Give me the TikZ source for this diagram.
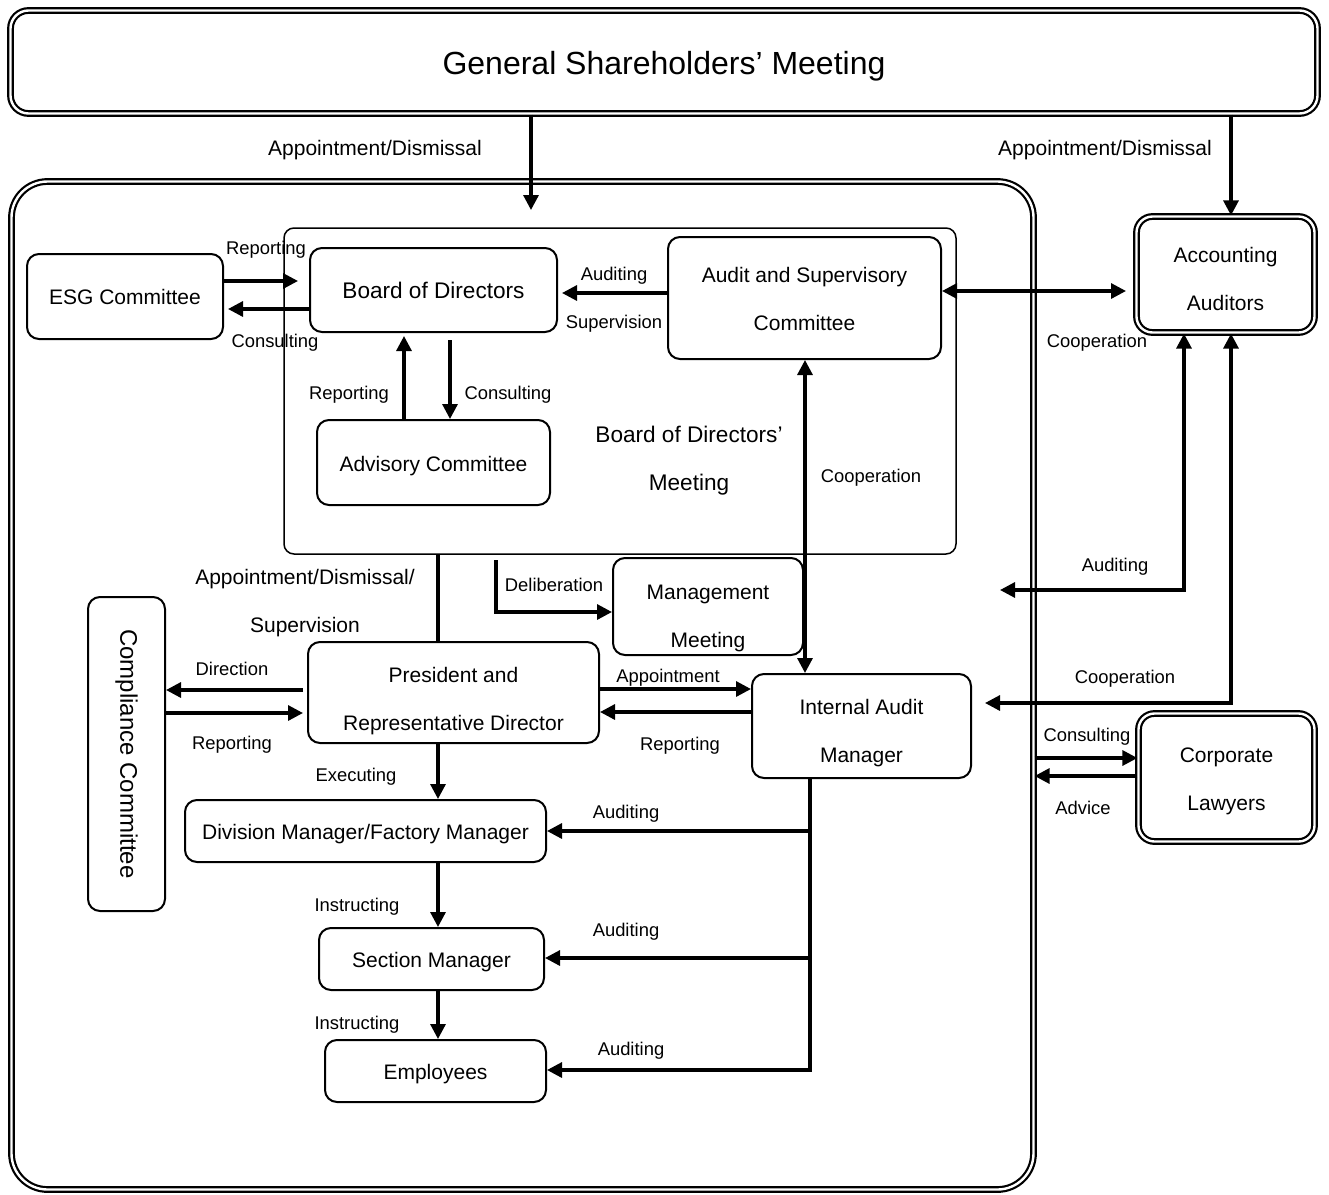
\documentclass[tikz,border=0pt]{standalone}
\usepackage{fontspec}
\setmainfont{Liberation Sans}
\usepackage{graphicx}
\usetikzlibrary{arrows.meta,calc}
% #1 style, #2 name, #3-#6 corners (px), #7 text, #8 text shift (px, down)
\newcommand\mybox[8]{%
  \pgfmathsetmacro\bcx{(#3+#5)/2}\pgfmathsetmacro\bcy{(#4+#6)/2}%
  \pgfmathsetmacro\bty{(#4+#6)/2+#8}%
  \pgfmathsetmacro\bww{(#5-#3)/2}\pgfmathsetmacro\bhh{(#6-#4)/2}%
  \node[#1, minimum width=\bww pt, minimum height=\bhh pt] (#2) at (\bcx,\bcy) {};
  \node[#1, draw=none] (#2t) at (\bcx,\bty) {#7};}
\begin{document}
\begin{tikzpicture}[x=0.5pt,y=-0.5pt,
  box/.style={draw, line width=1pt, rounded corners=6pt, align=center, inner sep=0pt, font=\fontsize{10.5}{24}\selectfont},
  dbl/.style={box, line width=1.1pt, double, double distance=1.2pt, rounded corners=8pt},
  lab/.style={font=\fontsize{9.2}{11}\selectfont, inner sep=0pt, yshift=-1pt},
  labb/.style={font=\fontsize{10.5}{24}\selectfont, inner sep=0pt, align=center, yshift=-1pt},
  arr/.style={line width=1.6pt, -{Triangle[length=7.5pt,width=7.5pt]}},
  darr/.style={line width=1.6pt, {Triangle[length=7.5pt,width=7.5pt]}-{Triangle[length=7.5pt,width=7.5pt]}},
  ln/.style={line width=1.6pt}]
\useasboundingbox (0,0) rectangle (1329,1195);

% boxes
\mybox{dbl, rounded corners=9pt, font=\fontsize{16}{20}\selectfont}{gsm}{10.5}{10.5}{1317.5}{113.5}{General Shareholders’ Meeting}{4}
\mybox{dbl, rounded corners=18pt}{cont}{11.5}{181.5}{1033.5}{1189.5}{}{0}
\mybox{box, line width=0.75pt, rounded corners=5pt}{bm}{284}{228}{956}{554}{}{0}
\node[box, draw=none, font=\fontsize{11.3}{24}\selectfont] (bmtext) at (689,461) {Board of Directors’\\Meeting};
\mybox{box, font=\fontsize{11.3}{24}\selectfont}{bod}{310}{248}{557}{332}{Board of Directors}{0}
\mybox{box}{esg}{27}{254}{223}{339}{ESG Committee}{0}
\mybox{box}{asc}{668}{237}{941}{359}{Audit and Supervisory\\Committee}{1}
\mybox{box}{adv}{317}{420}{550}{505}{Advisory Committee}{4}
\mybox{dbl}{acc}{1136.5}{216.5}{1314.5}{332.5}{Accounting\\Auditors}{4}
\mybox{box}{mm}{613}{558}{803}{655}{Management\\Meeting}{11.5}
\mybox{box, font=\fontsize{12}{14}\selectfont}{cc}{88}{597}{165}{911}{\rotatebox{-90}{Compliance Committee}}{0}
\mybox{box}{pres}{308}{642}{599}{743}{President and\\Representative Director}{9}
\mybox{box}{iam}{752}{674}{971}{778}{Internal Audit\\Manager}{7}
\mybox{dbl}{law}{1138.5}{713.5}{1314.5}{841.5}{Corporate\\Lawyers}{4}
\mybox{box}{div}{185}{800}{546}{862}{Division Manager/Factory Manager}{3}
\mybox{box}{sec}{319}{928}{544}{990}{Section Manager}{3}
\mybox{box}{emp}{325}{1040}{546}{1102}{Employees}{3}

% free ends
\coordinate (t1) at (531,210);
\coordinate (t2) at (298,281);
\coordinate (t3) at (228,309);
\coordinate (t4) at (562,293);
\coordinate (t5) at (1126,291);
\coordinate (s6) at (450,340);
\coordinate (t7) at (404,336);
\coordinate (s8) at (496,560);
\coordinate (s9) at (303,690);
\coordinate (t10) at (303,713);
\coordinate (j1) at (810,831);
\coordinate (j2) at (810,958);
\coordinate (t11) at (1000,590);
\coordinate (t12) at (985,703);

% connectors
\draw[arr] (531,0 |- gsm.south) -- (t1);
\draw[arr] (1231,0 |- gsm.south) -- (1231,0 |- acc.north);
\draw[arr] (esg.east |- t2) -- (t2);
\draw[arr] (bod.west |- t3) -- (t3);
\draw[arr] (asc.west |- t4) -- (t4);
\draw[darr] (asc.east |- t5) -- (t5);
\draw[arr] (s6) -- (s6 |- adv.north);
\draw[arr] (t7 |- adv.north) -- (t7);
\draw[darr] (805,0 |- asc.south) -- (805,0 |- iam.north);
\draw[ln] (438,0 |- bm.south) -- (438,0 |- pres.north);
\draw[arr] (s8) |- (mm.west |- 0,612);
\draw[arr] (s9) -- (cc.east |- s9);
\draw[arr] (cc.east |- t10) -- (t10);
\draw[arr] (pres.east |- 0,689) -- (iam.west |- 0,689);
\draw[arr] (iam.west |- 0,712) -- (pres.east |- 0,712);
\draw[arr] (438,0 |- pres.south) -- (438,0 |- div.north);
\draw[arr] (438,0 |- div.south) -- (438,0 |- sec.north);
\draw[arr] (438,0 |- sec.south) -- (438,0 |- emp.north);
\draw[arr] (810,0 |- iam.south) |- (emp.east |- 0,1070);
\draw[arr] (j1) -- (div.east |- j1);
\draw[arr] (j2) -- (sec.east |- j2);
\draw[darr] (1184,0 |- acc.south) |- (t11);
\draw[darr] (1231,0 |- acc.south) |- (t12);
\draw[arr] (cont.east |- 0,758) -- (law.west |- 0,758);
\draw[arr] (law.west |- 0,776) -- (cont.east |- 0,776);

% labels
\node[labb] (l1) at (375,148) {Appointment/Dismissal};
\node[labb] (l2) at (1105,148) {Appointment/Dismissal};
\node[lab] (l3) at (266,248) {Reporting};
\node[lab] (l4) at (275,341) {Consulting};
\node[lab] (l5) at (614,274) {Auditing};
\node[lab] (l6) at (614,322) {Supervision};
\node[lab] (l7) at (1097,341) {Cooperation};
\node[lab] (l8) at (349,393) {Reporting};
\node[lab] (l9) at (508,393) {Consulting};
\node[lab] (l10) at (871,476) {Cooperation};
\node[labb] (l11) at (305,601) {Appointment/Dismissal/\\Supervision};
\node[lab] (l12) at (554,583) {Deliberation};
\node[lab] (l13) at (232,667) {Direction};
\node[lab] (l14) at (232,743) {Reporting};
\node[lab] (l15) at (668,676) {Appointment};
\node[lab] (l16) at (680,744) {Reporting};
\node[lab] (l17) at (356,775) {Executing};
\node[lab] (l18) at (357,905) {Instructing};
\node[lab] (l19) at (357,1023) {Instructing};
\node[lab] (l20) at (626,812) {Auditing};
\node[lab] (l21) at (626,930) {Auditing};
\node[lab] (l22) at (631,1049) {Auditing};
\node[lab] (l23) at (1115,565) {Auditing};
\node[lab] (l24) at (1125,677) {Cooperation};
\node[lab] (l25) at (1087,735) {Consulting};
\node[lab] (l26) at (1083,806) {Advice};
\end{tikzpicture}
\end{document}
